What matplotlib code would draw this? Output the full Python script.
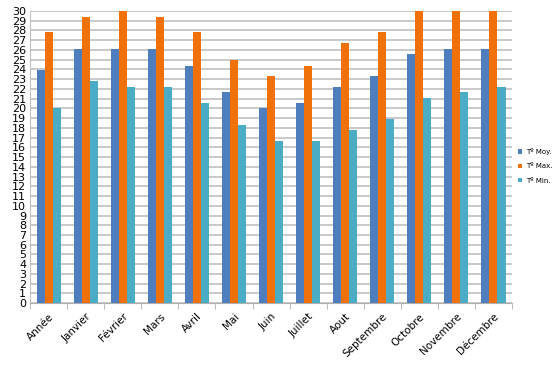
import numpy as np
from matplotlib import pyplot as plt

# monthly temperatures
mois = ['Année', 'Janvier', 'Février', 'Mars', 'Avril', 'Mai', 'Juin', 'Juillet',
        'Aout', 'Septembre', 'Octobre', 'Novembre', 'Décembre']
t_moy = [23.9, 26.1, 26.1, 26.1, 24.4, 21.7, 20.0, 20.6, 22.2, 23.3, 25.6, 26.1, 26.1]
t_max = [27.8, 29.4, 30.0, 29.4, 27.8, 25.0, 23.3, 24.4, 26.7, 27.8, 30.0, 30.0, 30.0]
t_min = [20.0, 22.8, 22.2, 22.2, 20.6, 18.3, 16.7, 16.7, 17.8, 18.9, 21.1, 21.7, 22.2]

fig = plt.figure(figsize=(5.6, 3.67), dpi=100)
ax = fig.add_axes([0.054, 0.174, 0.86, 0.796])

x = np.arange(len(mois))
w = 0.22
ax.bar(x - w, t_moy, w, color='#4f7ebf', label='Tº Moy.', zorder=3)
ax.bar(x, t_max, w, color='#f07109', label='Tº Max.', zorder=3)
ax.bar(x + w, t_min, w, color='#4bacc6', label='Tº Min.', zorder=3)

ax.set_ylim(0, 30)
ax.set_yticks(range(0, 31))
ax.set_xlim(-0.5, len(mois) - 0.5)
ax.set_xticks(x)
ax.set_xticklabels(mois, rotation=45, ha='right', rotation_mode='anchor', fontsize=7.5)
ax.set_xticks(np.arange(-0.5, len(mois)), minor=True)
ax.tick_params(axis='x', which='major', length=0, pad=6)
ax.tick_params(axis='x', which='minor', length=4, color='#b0b0b0')
ax.tick_params(axis='y', length=0, labelsize=8, pad=3)
ax.yaxis.grid(True, color='#c0c0c0', linewidth=1.2, zorder=0)
for s in ['top', 'right']:
    ax.spines[s].set_visible(False)
ax.spines['left'].set_color('#c0c0c0')
ax.spines['bottom'].set_color('#b0b0b0')

ax.legend(loc='center left', bbox_to_anchor=(1.0, 0.47), frameon=False, fontsize=5,
          handlelength=0.6, handleheight=0.6, labelspacing=1.2, handletextpad=0.5)

fig.savefig('out.png')
